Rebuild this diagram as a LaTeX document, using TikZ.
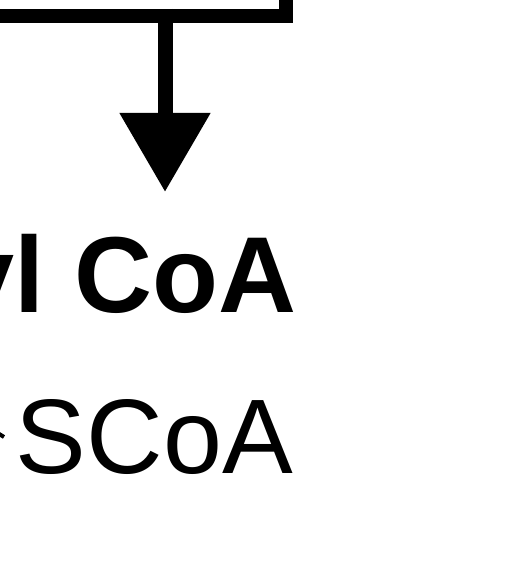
\documentclass[tikz,border=0pt]{standalone}
\usepackage{fontspec}
\setmainfont{Liberation Sans}
\usetikzlibrary{arrows.meta}
\tikzset{
  pathline/.style={line width=14pt},
  bigtext/.style={inner sep=0pt,font=\fontsize{106}{106}\selectfont}
}
\begin{document}
\begin{tikzpicture}[x=1pt,y=-1pt]
  \useasboundingbox (0,0) rectangle (514,588);
  % Bracket from the step above
  \coordinate (inL) at (-20,16);
  \coordinate (corner) at (286,16);
  \coordinate (inR) at (286,-20);
  \coordinate (branch) at (165,9);
  \coordinate (tip) at (165,192);
  \draw[pathline] (inL) -- (corner) -- ([yshift=7pt]corner.center) -- (inR);
  % Arrow down to the product
  \draw[line width=15pt,-{Triangle[length=79pt,width=87pt]}] (branch) -- (tip);
  % Product name and formula
  \node[bigtext,anchor=base east,font=\fontsize{108}{108}\selectfont] (name) at (297,312) {\bfseries yl CoA};
  \node[bigtext,anchor=base east] (formula) at (293,473) {SCoA};
  % Bond into the formula
  \coordinate (bondA) at (-12,427);
  \coordinate (bondB) at (4,437);
  \draw[line width=4pt] (bondA) -- (bondB);
\end{tikzpicture}
\end{document}
